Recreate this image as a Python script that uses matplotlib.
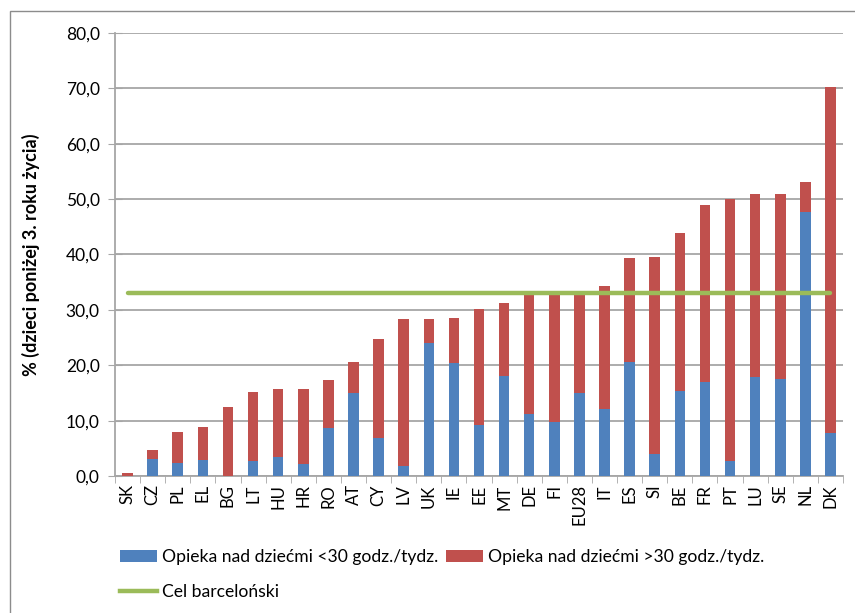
import numpy as np
import matplotlib
matplotlib.use("Agg")
import matplotlib.pyplot as plt
from matplotlib.patches import Patch, Rectangle
from matplotlib.lines import Line2D
from matplotlib.ticker import FuncFormatter, MultipleLocator, FixedLocator

plt.rcParams['font.family'] = ['Lato', 'DejaVu Sans']

countries = ["SK", "CZ", "PL", "EL", "BG", "LT", "HU", "HR", "RO", "AT", "CY", "LV",
             "UK", "IE", "EE", "MT", "DE", "FI", "EU28", "IT", "ES", "SI", "BE", "FR",
             "PT", "LU", "SE", "NL", "DK"]
# % of children under 3 in childcare
under30 = [0.0, 3.0, 2.3, 2.8, 0.0, 2.7, 3.4, 2.2, 8.6, 15.0, 6.8, 1.8,
           24.0, 20.4, 9.3, 18.1, 11.2, 9.8, 15.0, 12.1, 20.6, 3.9, 15.3, 17.0,
           2.7, 17.8, 17.5, 47.7, 7.7]
total = [0.5, 4.7, 7.9, 8.9, 12.5, 15.2, 15.7, 15.7, 17.4, 20.6, 24.8, 28.3,
         28.4, 28.6, 30.2, 31.3, 32.6, 32.7, 32.7, 34.4, 39.4, 39.6, 43.9, 49.0,
         50.0, 50.9, 51.0, 53.1, 70.2]
barcelona_target = 33.0

label_lt30 = "Opieka nad dziećmi <30 godz./tydz."
label_gt30 = "Opieka nad dziećmi >30 godz./tydz."
label_target = "Cel barceloński"

blue = "#4F81BD"
red = "#C0504D"
green = "#9BBB59"
grid_col = "#A6A6A6"

x = np.arange(len(countries))
under30 = np.array(under30)
over30 = np.array(total) - under30
target_line = [barcelona_target] * len(countries)

fig = plt.figure(figsize=(8.55, 6.13), dpi=100)
ax = fig.add_axes([115/855, 1 - 476/613, 728/855, 443/613])

ax.bar(x, under30, width=0.42, color=blue, zorder=3)
ax.bar(x, over30, width=0.42, bottom=under30, color=red, zorder=3)
ax.plot(x, target_line, color=green, lw=3.2, solid_capstyle="round", zorder=4)

ax.set_xlim(-0.5, len(countries) - 0.5)
ax.set_ylim(0, 80)
ax.yaxis.set_major_locator(MultipleLocator(10))
ax.yaxis.set_major_formatter(FuncFormatter(lambda v, p: f"{v:.1f}".replace(".", ",")))
ax.grid(axis="y", color=grid_col, lw=1.3, zorder=0)
ax.set_axisbelow(True)

ax.set_xticks(x)
ax.set_xticklabels(countries, rotation=90, fontsize=12)
ax.tick_params(axis="x", which="major", length=0, pad=6)
ax.xaxis.set_minor_locator(FixedLocator(np.arange(-0.5, len(countries), 1.0)))
ax.tick_params(axis="x", which="minor", length=5, direction="out", color=grid_col)
ax.tick_params(axis="y", labelsize=12.5, direction="inout", length=10, color=grid_col, pad=6)

for s in ["top", "right"]:
    ax.spines[s].set_visible(False)
for s in ["left", "bottom"]:
    ax.spines[s].set_color(grid_col)
    ax.spines[s].set_linewidth(1.3)

ax.set_ylabel("% (dzieci poniżej 3. roku życia)", fontsize=13, fontweight="bold")
ax.yaxis.set_label_coords((40 - 115) / 728, 0.5)

handles = [Patch(facecolor=blue, label=label_lt30),
           Line2D([0], [0], color=green, lw=3.2, label=label_target),
           Patch(facecolor=red, label=label_gt30)]
fig.legend(handles=handles, loc="upper left", bbox_to_anchor=(120/855, 1 - 549/613),
           ncol=2, frameon=False, fontsize=12.6, borderpad=0, borderaxespad=0,
           handlelength=2.1, handleheight=0.7, handletextpad=0.3,
           columnspacing=0.45, labelspacing=1.1)

# outer chart border (only top and left edges visible in the original)
fig.add_artist(Rectangle((10/855, -0.1), 1.2, 1 - 11/613 + 0.1, transform=fig.transFigure,
                         fill=False, edgecolor="#8C8C8C", lw=1.0))

fig.savefig("out.png", dpi=100)
